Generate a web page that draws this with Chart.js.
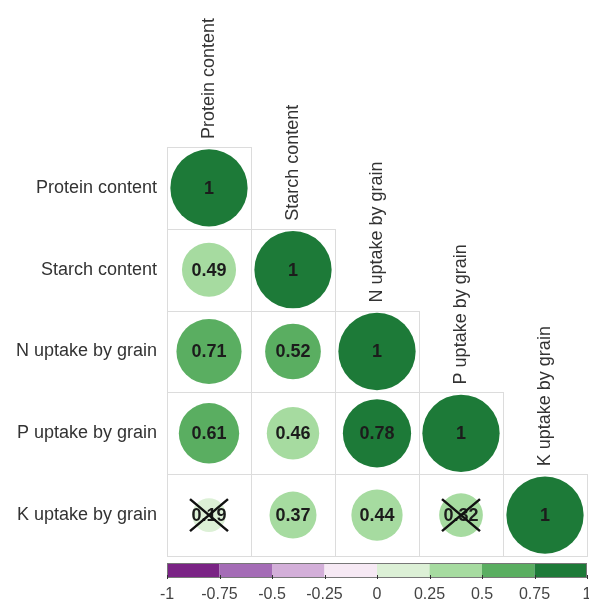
<!DOCTYPE html>
<html>
<head>
<meta charset="utf-8">
<script src="https://cdn.jsdelivr.net/npm/chart.js@4/dist/chart.umd.min.js"></script>
<style>
  html, body { margin: 0; padding: 0; background: #ffffff; }
  #wrap { width: 589px; height: 601px; }
</style>
</head>
<body>
<div id="wrap"><canvas id="c" width="589" height="601"></canvas></div>
<script>
// ---------- data ----------
const variables = ["Protein content", "Starch content", "N uptake by grain", "P uptake by grain", "K uptake by grain"];
const rowProtein = [1];
const rowStarch  = [0.49, 1];
const rowN       = [0.71, 0.52, 1];
const rowP       = [0.61, 0.46, 0.78, 1];
const rowK       = [0.19, 0.37, 0.44, 0.32, 1];
const corrRows   = [rowProtein, rowStarch, rowN, rowP, rowK];
const insignificant = [[4, 0], [4, 3]]; // [row, col] pairs crossed out
const legendTicks = [-1, -0.75, -0.5, -0.25, 0, 0.25, 0.5, 0.75, 1];
const binColors = ["#7a2385", "#a46cb6", "#d3afd9", "#f6e9f4", "#dcf0d6", "#a6dba0", "#5aae61", "#1d7a38"];

// ---------- helpers ----------
function colorFor(v) {
  let i = Math.floor((v + 1) / 0.25);
  if (i > 7) i = 7;
  if (i < 0) i = 0;
  return binColors[i];
}
function isInsig(r, c) {
  return insignificant.some(p => p[0] === r && p[1] === c);
}
const points = [];
corrRows.forEach((row, r) => {
  row.forEach((v, c) => {
    points.push({ x: c + 1, y: r + 1, v: v, r0: r, c0: c });
  });
});
function rawOf(ctx) {
  return (ctx && ctx.raw) ? ctx.raw : (ctx && ctx.dataIndex != null ? points[ctx.dataIndex] : null);
}
function radiusFor(ctx) {
  const p = rawOf(ctx);
  if (!p) return 0;
  const a = ctx.chart.chartArea;
  if (!a) return 0;
  const unit = (a.right - a.left) / 5;
  return unit * 0.46 * Math.sqrt(Math.abs(p.v));
}
function bgFor(ctx) {
  const p = rawOf(ctx);
  return p ? colorFor(p.v) : '#cccccc';
}

const FONT = '"Liberation Sans", Arial, Helvetica, sans-serif';

const corrPlugin = {
  id: 'corrPlugin',
  beforeDatasetsDraw(chart) {
    const ctx = chart.ctx;
    const xs = chart.scales.x, ys = chart.scales.y;
    ctx.save();
    ctx.strokeStyle = '#dcdcdc';
    ctx.lineWidth = 1;
    corrRows.forEach((row, r) => {
      row.forEach((v, c) => {
        const x0 = Math.round(xs.getPixelForValue(c + 0.5)) + 0.5;
        const x1 = Math.round(xs.getPixelForValue(c + 1.5)) + 0.5;
        const y0 = Math.round(ys.getPixelForValue(r + 0.5)) + 0.5;
        const y1 = Math.round(ys.getPixelForValue(r + 1.5)) + 0.5;
        ctx.strokeRect(x0, y0, x1 - x0, y1 - y0);
      });
    });
    ctx.restore();
  },
  afterDatasetsDraw(chart) {
    const ctx = chart.ctx;
    const xs = chart.scales.x, ys = chart.scales.y, cb = chart.scales.cb;
    ctx.save();
    // value labels
    ctx.font = 'bold 18px ' + FONT;
    ctx.fillStyle = '#1c1c1c';
    ctx.textAlign = 'center';
    ctx.textBaseline = 'middle';
    points.forEach(p => {
      const px = xs.getPixelForValue(p.x), py = ys.getPixelForValue(p.y);
      const txt = p.v === 1 ? '1' : String(p.v);
      ctx.fillText(txt, px, py + 1);
    });
    // crosses
    ctx.strokeStyle = '#111111';
    ctx.lineWidth = 2.5;
    ctx.lineCap = 'butt';
    points.forEach(p => {
      if (!isInsig(p.r0, p.c0)) return;
      const px = xs.getPixelForValue(p.x), py = ys.getPixelForValue(p.y);
      ctx.beginPath();
      ctx.moveTo(px - 19, py - 16); ctx.lineTo(px + 19, py + 16);
      ctx.moveTo(px + 19, py - 16); ctx.lineTo(px - 19, py + 16);
      ctx.stroke();
    });
    // top (column) labels, staircase above the diagonal cells
    ctx.font = '18px ' + FONT;
    ctx.fillStyle = '#333333';
    ctx.textAlign = 'left';
    ctx.textBaseline = 'middle';
    variables.forEach((name, j) => {
      const px = xs.getPixelForValue(j + 1);
      const top = ys.getPixelForValue(j + 0.5);
      ctx.save();
      ctx.translate(px, top - 8);
      ctx.rotate(-Math.PI / 2);
      ctx.fillText(name, 0, 0);
      ctx.restore();
    });
    // colour bar
    const barTop = 563, barH = 14;
    for (let i = 0; i < 8; i++) {
      const a = cb.getPixelForValue(legendTicks[i]);
      const b = cb.getPixelForValue(legendTicks[i + 1]);
      ctx.fillStyle = binColors[i];
      ctx.fillRect(a, barTop, b - a, barH);
    }
    const L = cb.getPixelForValue(-1), R = cb.getPixelForValue(1);
    ctx.strokeStyle = '#777777';
    ctx.lineWidth = 1;
    ctx.strokeRect(Math.round(L) + 0.5, barTop + 0.5, Math.round(R - L) - 1, barH);
    ctx.strokeStyle = '#333333';
    legendTicks.forEach(t => {
      const x = Math.round(cb.getPixelForValue(t)) + 0.5;
      ctx.beginPath();
      ctx.moveTo(x, barTop + barH - 2);
      ctx.lineTo(x, barTop + barH + 2);
      ctx.stroke();
    });
    ctx.restore();
  }
};

new Chart(document.getElementById('c'), {
  type: 'scatter',
  data: {
    datasets: [{
      data: points,
      xAxisID: 'x',
      yAxisID: 'y',
      showLine: false,
      pointRadius: radiusFor,
      pointHoverRadius: radiusFor,
      pointBackgroundColor: bgFor,
      pointBorderColor: bgFor,
      pointBorderWidth: 0,
      pointHoverBorderWidth: 0,
      pointHitRadius: 0,
      clip: false
    }]
  },
  options: {
    responsive: false,
    devicePixelRatio: 1,
    animation: false,
    events: [],
    layout: { padding: { top: 147, right: 2, left: 0, bottom: 0 } },
    plugins: { legend: { display: false }, tooltip: { enabled: false } },
    scales: {
      x: { type: 'linear', min: 0.5, max: 5.5, display: false },
      y: {
        type: 'linear', min: 0.5, max: 5.5, reverse: true,
        afterBuildTicks: s => { s.ticks = variables.map((_, i) => ({ value: i + 1 })); },
        afterFit: s => { s.width = 167; s.paddingTop = 0; s.paddingBottom = 0; },
        grid: { display: false, drawTicks: false },
        border: { display: false },
        ticks: {
          callback: v => variables[v - 1],
          font: { size: 18, family: FONT },
          color: '#333333',
          padding: 10
        }
      },
      cb: {
        type: 'linear', position: 'bottom', axis: 'x', min: -1, max: 1,
        afterBuildTicks: s => { s.ticks = legendTicks.map(v => ({ value: v })); },
        afterFit: s => { s.height = 45; s.paddingLeft = 0; s.paddingRight = 0; },
        grid: { display: false, drawTicks: false },
        border: { display: false },
        ticks: {
          autoSkip: false, maxRotation: 0, minRotation: 0,
          callback: v => String(v),
          font: { size: 16, family: FONT },
          color: '#444444',
          padding: 29
        }
      }
    }
  },
  plugins: [corrPlugin]
});
</script>
</body>
</html>
